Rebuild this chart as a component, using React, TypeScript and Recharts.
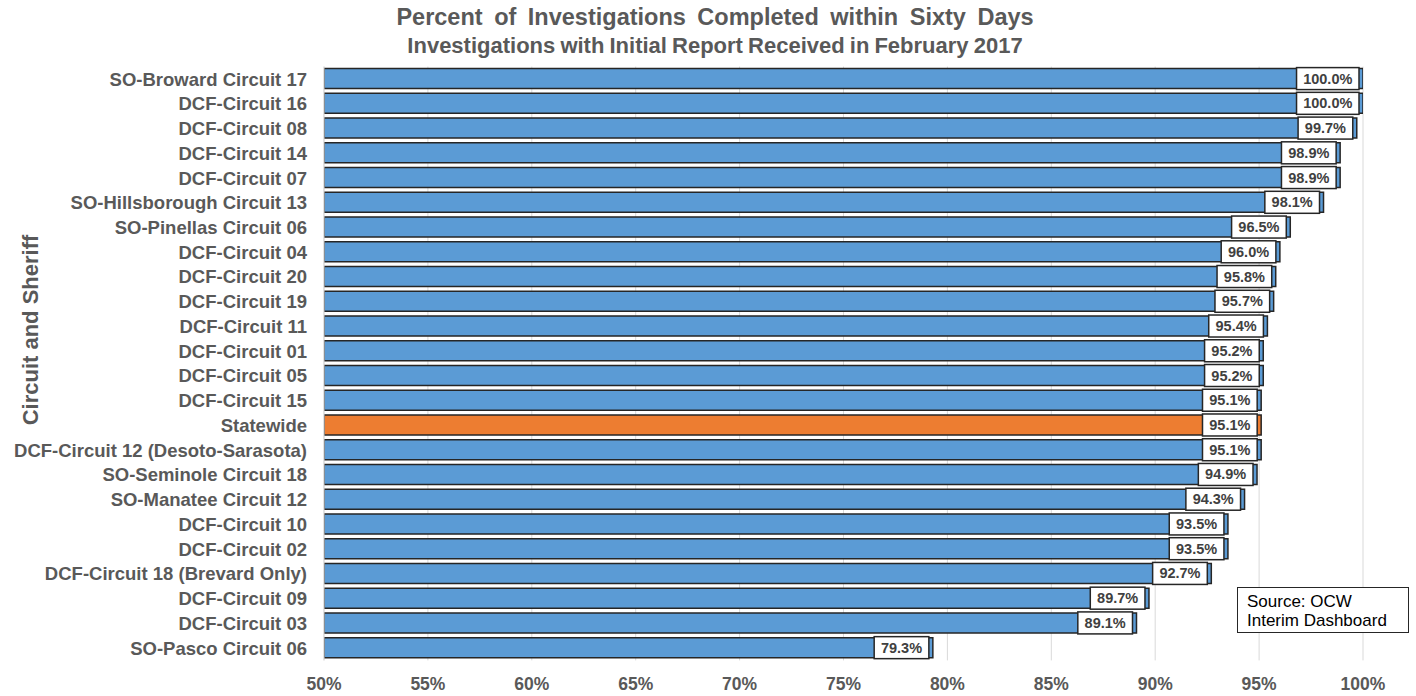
import React from 'react';
import { BarChart, Bar, XAxis, YAxis, CartesianGrid, Cell, LabelList } from 'recharts';

const categories = [
  'SO-Broward Circuit 17', 'DCF-Circuit 16', 'DCF-Circuit 08', 'DCF-Circuit 14', 'DCF-Circuit 07',
  'SO-Hillsborough Circuit 13', 'SO-Pinellas Circuit 06', 'DCF-Circuit 04', 'DCF-Circuit 20',
  'DCF-Circuit 19', 'DCF-Circuit 11', 'DCF-Circuit 01', 'DCF-Circuit 05', 'DCF-Circuit 15',
  'Statewide', 'DCF-Circuit 12 (Desoto-Sarasota)', 'SO-Seminole Circuit 18', 'SO-Manatee Circuit 12',
  'DCF-Circuit 10', 'DCF-Circuit 02', 'DCF-Circuit 18 (Brevard Only)', 'DCF-Circuit 09',
  'DCF-Circuit 03', 'SO-Pasco Circuit 06',
];
const values = [
  100.0, 100.0, 99.7, 98.9, 98.9, 98.1, 96.5, 96.0, 95.8, 95.7, 95.4, 95.2, 95.2, 95.1,
  95.1, 95.1, 94.9, 94.3, 93.5, 93.5, 92.7, 89.7, 89.1, 79.3,
];
const xTicks = [50, 55, 60, 65, 70, 75, 80, 85, 90, 95, 100];
const highlight = 'Statewide';

const data = categories.map((name, i) => ({ name, value: values[i] }));

const FONT = '"Liberation Sans", Arial, sans-serif';

const charW = (c: string) => (c === '.' ? 3.89 : c === '%' ? 12.45 : 7.78);

const ValueLabel = (props: any) => {
  const { x, y, width, height, value } = props;
  const txt = `${Number(value).toFixed(1)}%`;
  const tw = txt.split('').reduce((s: number, c: string) => s + charW(c), 0);
  const bw = tw + 15;
  const right = x + width - 4;
  const bh = 22;
  const cy = y + height / 2;
  return (
    <g>
      <rect x={right - bw} y={cy - bh / 2} width={bw} height={bh} fill="#ffffff" stroke="#262626" strokeWidth={1.5} />
      <text x={right - bw / 2} y={cy} textAnchor="middle" dominantBaseline="central" fontFamily={FONT} fontWeight="bold" fontSize={14.5} fill="#404040">
        {txt}
      </text>
    </g>
  );
};

export default function App() {
  return (
    <div style={{ position: 'absolute', left: 0, top: 0, width: 1416, height: 696, background: '#fff', fontFamily: FONT }}>
      <div style={{ position: 'absolute', left: 0, width: 1430, top: 4, textAlign: 'center', fontWeight: 'bold', fontSize: 23.5, color: '#595959', wordSpacing: 5, whiteSpace: 'nowrap' }}>
        Percent of Investigations Completed within Sixty Days
      </div>
      <div style={{ position: 'absolute', left: 0, width: 1430, top: 33, textAlign: 'center', fontWeight: 'bold', fontSize: 22, color: '#595959', wordSpacing: -1, whiteSpace: 'nowrap' }}>
        Investigations with Initial Report Received in February 2017
      </div>
      <div style={{ position: 'absolute', left: 31, top: 330, width: 0, height: 0 }}>
        <div style={{ position: 'absolute', transform: 'translate(-50%, -50%) rotate(-90deg)', whiteSpace: 'nowrap', fontWeight: 'bold', fontSize: 22, color: '#595959' }}>
          Circuit and Sheriff
        </div>
      </div>
      <BarChart
        width={1416}
        height={696}
        data={data}
        layout="vertical"
        barSize={20}
        margin={{ top: 66.6, right: 53, bottom: 5.6, left: 24 }}
      >
        <CartesianGrid horizontal={false} stroke="#d9d9d9" strokeWidth={1} />
        <XAxis
          type="number"
          domain={[50, 100]}
          ticks={xTicks}
          allowDataOverflow
          tickFormatter={(v: number) => `${v}%`}
          axisLine={false}
          tickLine={false}
          tickSize={0}
          tickMargin={17}
          height={30}
          tick={{ fontFamily: FONT, fontWeight: 'bold', fontSize: 17.5, fill: '#595959' }}
        />
        <YAxis
          type="category"
          dataKey="name"
          width={300}
          axisLine={{ stroke: '#d9d9d9' }}
          tickLine={false}
          tickSize={0}
          tickMargin={17}
          interval={0}
          tick={{ fontFamily: FONT, fontWeight: 'bold', fontSize: 18.5, fill: '#595959' }}
        />
        <Bar dataKey="value" isAnimationActive={false} stroke="#262626" strokeWidth={1.5}>
          {data.map((d) => (
            <Cell key={d.name} fill={d.name === highlight ? '#ED7D31' : '#5B9BD5'} />
          ))}
          <LabelList dataKey="value" content={<ValueLabel />} />
        </Bar>
      </BarChart>
      <div style={{ position: 'absolute', left: 1237, top: 587, width: 172, height: 46, border: '1.5px solid #262626', background: '#fff', fontSize: 17, lineHeight: '19px', color: '#000', padding: '4px 0 0 9px', boxSizing: 'border-box', whiteSpace: 'nowrap' }}>
        Source: OCW<br />Interim Dashboard
      </div>
    </div>
  );
}
